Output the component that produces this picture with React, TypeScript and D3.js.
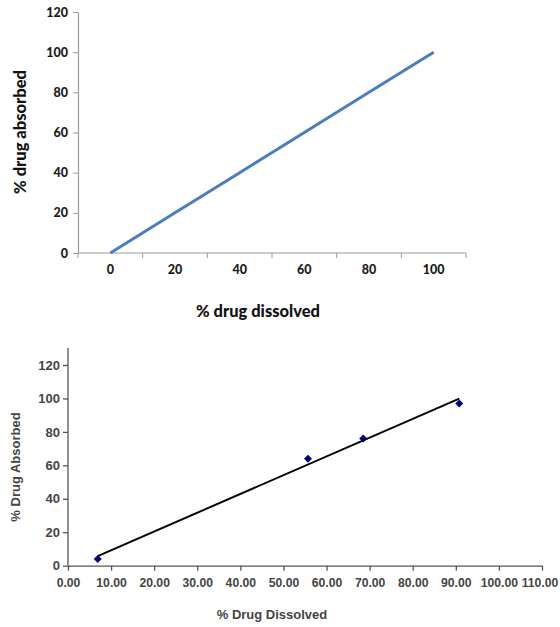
import React, { useEffect, useRef } from 'react'
import * as d3 from 'd3'

// top chart: excel line chart with a category x axis
const topCategories = [0, 20, 40, 60, 80, 100]
const topAbsorbed = [0, 20, 40, 60, 80, 100]
const topYTicks = [0, 20, 40, 60, 80, 100, 120]

// bottom chart: scatter + linear trendline
const dissolved = [6.9, 55.7, 68.5, 90.8]
const absorbed = [4, 64, 76, 97]
const bottomXTicks = [0, 10, 20, 30, 40, 50, 60, 70, 80, 90, 100, 110]
const bottomYTicks = [0, 20, 40, 60, 80, 100, 120]

export default function App() {
    const ref = useRef<SVGSVGElement>(null)

    useEffect(() => {
        const svg = d3.select(ref.current)
        svg.selectAll('*').remove()

        // ---------- top chart ----------
        const topFont = 'Lato, "Open Sans", sans-serif'
        const x1 = d3.scaleBand<number>().domain(topCategories).range([78, 466]).padding(0)
        const y1 = d3.scaleLinear().domain([0, 120]).range([253, 12])
        const bw = x1.bandwidth()
        const top = svg.append('g')

        const yAx1 = top.append('g')
            .attr('transform', 'translate(78,0)')
            .call(d3.axisLeft(y1).tickValues(topYTicks).tickSize(5).tickPadding(5).tickSizeOuter(0))
        yAx1.select('.domain').attr('stroke', '#9a9a9a').attr('stroke-width', 1.2)
        yAx1.selectAll('.tick line').attr('stroke', '#9a9a9a')
        yAx1.selectAll('text')
            .attr('font-family', topFont).attr('font-weight', 900).attr('font-size', 12.5).attr('fill', '#1a1a1a')

        // x axis line + ticks between categories
        top.append('line')
            .attr('x1', 78).attr('x2', 466).attr('y1', y1(0)).attr('y2', y1(0))
            .attr('stroke', '#9a9a9a').attr('stroke-width', 1.2)
        const bounds = topCategories.map(c => x1(c) as number).concat([x1.range()[1]])
        top.selectAll('.xt').data(bounds).enter().append('line')
            .attr('x1', d => d).attr('x2', d => d)
            .attr('y1', y1(0)).attr('y2', y1(0) + 5)
            .attr('stroke', '#9a9a9a')
        top.selectAll('.xl').data(topCategories).enter().append('text')
            .attr('x', d => (x1(d) as number) + bw / 2)
            .attr('y', 271)
            .attr('dominant-baseline', 'middle')
            .attr('text-anchor', 'middle')
            .attr('font-family', topFont).attr('font-weight', 900).attr('font-size', 12.5).attr('fill', '#1a1a1a')
            .text(d => d)

        const line1 = d3.line<number>()
            .x((d, i) => (x1(topCategories[i]) as number) + bw / 2)
            .y(d => y1(d))
        top.append('path')
            .datum(topAbsorbed)
            .attr('d', line1)
            .attr('fill', 'none')
            .attr('stroke', '#4a7ebb')
            .attr('stroke-width', 3)

        top.append('text')
            .attr('transform', 'translate(22,132) rotate(-90)')
            .attr('text-anchor', 'middle').attr('dominant-baseline', 'middle')
            .attr('font-family', topFont).attr('font-weight', 900).attr('font-size', 16.5).attr('fill', '#111')
            .text('% drug absorbed')
        top.append('text')
            .attr('x', 258).attr('y', 313)
            .attr('text-anchor', 'middle').attr('dominant-baseline', 'middle')
            .attr('font-family', topFont).attr('font-weight', 900).attr('font-size', 16.5).attr('fill', '#111')
            .text('% drug dissolved')

        // ---------- bottom chart ----------
        const botFont = '"Liberation Sans", Arial, sans-serif'
        const x2 = d3.scaleLinear().domain([0, 110]).range([68, 542])
        const y2 = d3.scaleLinear().domain([0, 120]).range([565.7, 365])
        const bot = svg.append('g')

        // y axis line runs a bit above the last tick
        bot.append('line')
            .attr('x1', 68).attr('x2', 68).attr('y1', 348).attr('y2', y2(0))
            .attr('stroke', '#555').attr('stroke-width', 1.3)
        const yAx2 = bot.append('g')
            .attr('transform', 'translate(68,0)')
            .call(d3.axisLeft(y2).tickValues(bottomYTicks).tickSize(5).tickPadding(3).tickSizeOuter(0))
        yAx2.select('.domain').remove()
        yAx2.selectAll('.tick line').attr('stroke', '#555').attr('stroke-width', 1.3)
        yAx2.selectAll('text')
            .attr('font-family', botFont).attr('font-weight', 'bold').attr('font-size', 13).attr('fill', '#444')

        const xAx2 = bot.append('g')
            .attr('transform', `translate(0,${y2(0)})`)
            .call(d3.axisBottom(x2).tickValues(bottomXTicks).tickFormat(d3.format('.2f')).tickSize(5).tickPadding(8).tickSizeOuter(0))
        xAx2.select('.domain').attr('stroke', '#555').attr('stroke-width', 1.3)
        xAx2.selectAll('.tick line').attr('stroke', '#555').attr('stroke-width', 1.3)
        xAx2.selectAll('text')
            .attr('font-family', botFont).attr('font-weight', 'bold').attr('font-size', 12.2).attr('fill', '#444')
        // last label sits on the right edge of the picture
        xAx2.selectAll('text').filter((d: any) => d === 110).attr('dx', -2.5)

        // least squares trendline over the data range
        const mx = d3.mean(dissolved) as number
        const my = d3.mean(absorbed) as number
        const sxy = d3.sum(dissolved, (d, i) => (d - mx) * (absorbed[i] - my))
        const sxx = d3.sum(dissolved, d => (d - mx) * (d - mx))
        const slope = sxy / sxx
        const icpt = my - slope * mx
        const ext = d3.extent(dissolved) as [number, number]
        bot.append('line')
            .attr('x1', x2(ext[0])).attr('y1', y2(icpt + slope * ext[0]))
            .attr('x2', x2(ext[1])).attr('y2', y2(icpt + slope * ext[1]))
            .attr('stroke', '#000').attr('stroke-width', 2)

        // excel style diamond = square turned 45deg
        const diamond = d3.symbol().type(d3.symbolSquare).size(32)
        bot.selectAll('.pt').data(dissolved).enter().append('path')
            .attr('d', diamond)
            .attr('transform', (d, i) => `translate(${x2(d)},${y2(absorbed[i])}) rotate(45)`)
            .attr('fill', '#000080')

        bot.append('text')
            .attr('transform', 'translate(17,467) rotate(-90)')
            .attr('text-anchor', 'middle').attr('dominant-baseline', 'middle')
            .attr('font-family', botFont).attr('font-weight', 'bold').attr('font-size', 13).attr('fill', '#444')
            .text('% Drug Absorbed')
        bot.append('text')
            .attr('x', 272).attr('y', 616)
            .attr('text-anchor', 'middle').attr('dominant-baseline', 'middle')
            .attr('font-family', botFont).attr('font-weight', 'bold').attr('font-size', 13).attr('fill', '#444')
            .text('% Drug Dissolved')
    }, [])

    return (
        <svg ref={ref} width={560} height={627}
            style={{ position: 'absolute', left: 0, top: 0, background: '#fff' }} />
    )
}
